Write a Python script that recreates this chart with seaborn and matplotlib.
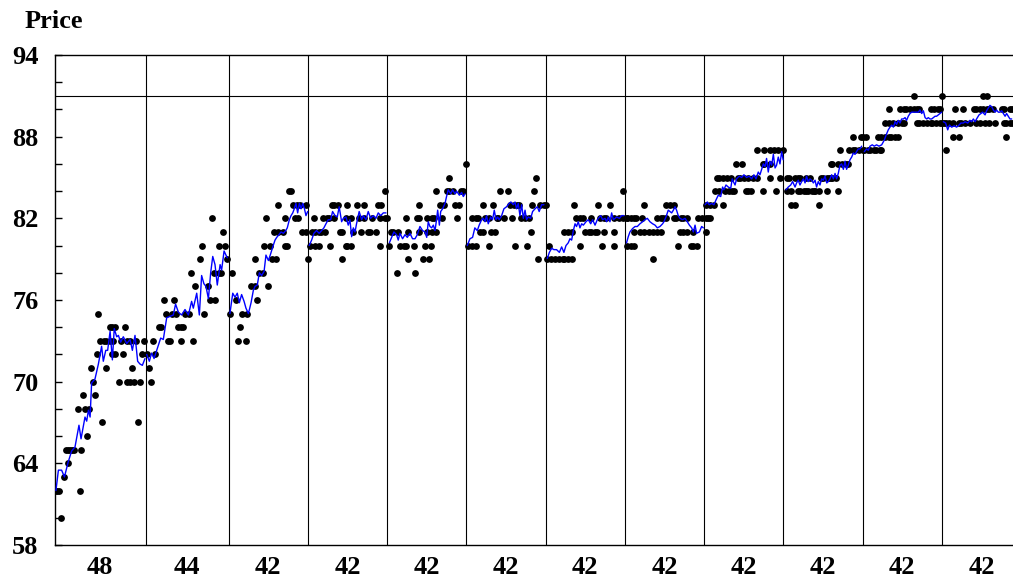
import numpy as np
import pandas as pd
import seaborn as sns
import matplotlib.pyplot as plt
from matplotlib.ticker import MultipleLocator

# ── Data ──────────────────────────────────────────────────────────────────────
segment_sizes = [48, 44, 42, 42, 42, 42, 42, 42, 42, 42, 42, 42]
segment_labels = [str(n) for n in segment_sizes]
price_ticks = [58, 64, 70, 76, 82, 88, 94]
ceiling_price = 91

# individual trades: (price, [periods])
trade_rows = [
    # segment 1
    (60, [3]), (62, [0, 1, 2, 13]), (63, [5]), (64, [7]),
    (65, [6, 7, 8, 9, 10, 14]), (66, [17]), (67, [25, 44]), (68, [12, 16, 18]),
    (69, [15, 21]), (70, [20, 34, 38, 40, 42, 45]), (71, [19, 27, 41]),
    (72, [22, 30, 32, 36, 46]), (73, [24, 26, 27, 29, 31, 35, 38, 40, 43, 47]),
    (74, [29, 30, 32, 37]), (75, [23]),
    # segment 2
    (70, [51]), (71, [50]), (72, [49, 53]), (73, [52, 60, 61, 67, 73]),
    (74, [55, 56, 65, 67, 68]), (75, [59, 62, 64, 69, 71, 79]), (76, [58, 63, 82, 85]),
    (77, [74, 81]), (78, [72, 84, 87, 88]), (79, [77, 91]), (80, [78, 87, 90]),
    (81, [89]), (82, [83]),
    # segment 3
    (73, [97, 101]), (74, [98]), (75, [93, 99, 102]), (76, [96, 107]),
    (77, [104, 106, 113]), (78, [94, 108, 110]), (79, [106, 115, 117]),
    (80, [111, 114, 122, 123]), (81, [116, 118, 121, 131, 133]),
    (82, [112, 122, 127, 129]), (83, [118, 126, 128, 130, 133]), (84, [124, 125]),
    # segment 4
    (79, [134, 152]), (80, [135, 138, 140, 146, 154, 155, 157, 172]),
    (81, [136, 138, 140, 141, 143, 151, 152, 158, 162, 166, 167, 170]),
    (82, [137, 142, 144, 145, 148, 154, 157, 161, 164, 168, 172, 175, 176]),
    (83, [147, 148, 150, 155, 160, 164, 171, 173]), (84, [175]),
    # segment 5
    (78, [181, 191]), (79, [187, 195, 198]), (80, [177, 183, 185, 186, 190, 196, 199]),
    (81, [178, 179, 182, 187, 193, 197, 200, 202]),
    (82, [186, 192, 193, 197, 200, 201, 205, 213]), (83, [193, 204, 206, 212, 214]),
    (84, [202, 208, 209, 211, 215, 216]), (85, [209]), (86, [218]),
    # segment 6
    (79, [256]), (80, [219, 221, 223, 230, 244, 250]), (81, [225, 227, 231, 233, 252]),
    (82, [221, 223, 224, 228, 230, 234, 235, 238, 242, 247, 249, 251]),
    (83, [227, 232, 241, 243, 245, 246, 253, 257, 259, 260]), (84, [236, 240, 254]),
    (85, [255]),
    # segment 7
    (79, [261, 263, 265, 267, 269, 270, 272, 274]), (80, [262, 278, 290, 296]),
    (81, [270, 272, 274, 281, 283, 284, 286, 287, 291, 296]),
    (82, [276, 278, 280, 284, 289, 291, 292, 296, 299, 301, 303]),
    (83, [275, 288, 294]), (84, [301]),
    # segment 8
    (79, [317]), (80, [303, 305, 307, 330, 337, 338, 340]),
    (81, [307, 310, 312, 315, 317, 319, 321, 331, 333, 335, 338, 345]),
    (82, [303, 305, 307, 308, 311, 319, 321, 322, 324, 328, 329, 332, 333, 335, 341, 343, 345]),
    (83, [312, 324, 326, 328, 345]),
    # segment 9
    (82, [346, 347]), (83, [347, 349, 354]),
    (84, [350, 352, 355, 357, 359, 360, 366, 367, 369, 375, 382]),
    (85, [351, 352, 354, 356, 358, 362, 363, 365, 367, 370, 372, 379, 384]),
    (86, [361, 364, 375, 376, 379]), (87, [372, 376, 379, 381, 383, 386]),
    # segment 10
    (83, [390, 392, 405]),
    (84, [388, 390, 394, 395, 397, 398, 399, 401, 402, 403, 405, 409, 415]),
    (85, [388, 389, 392, 394, 395, 398, 400, 406, 407, 409, 410, 411, 412, 414]),
    (86, [411, 412, 415, 417, 419, 420]), (87, [416, 421, 423, 424, 426, 428]),
    (88, [423, 427, 428, 430]),
    # segment 11
    (87, [429, 431, 432, 434, 435, 437, 438]),
    (88, [436, 438, 440, 442, 443, 445, 447]),
    (89, [440, 442, 444, 447, 449, 450, 457, 458, 460, 462, 464, 465, 467, 469, 470]),
    (90, [442, 448, 450, 451, 453, 455, 457, 458, 464, 466, 468, 469]),
    (91, [455, 470]),
    # segment 12
    (87, [472]), (88, [476, 479, 504]),
    (89, [471, 472, 474, 476, 479, 480, 482, 485, 488, 490, 493, 495, 498, 503, 504, 506, 507]),
    (90, [477, 481, 487, 488, 490, 492, 494, 495, 497, 502, 503, 506, 507]),
    (91, [492, 494]),
]

# average price line
avg_period = [
    0.5, 1.8, 3.5, 5.0, 7.0, 8.8, 10.6, 12.7, 13.8, 15.9, 16.8, 17.7, 18.6, 19.4, 21.2,
    23.0, 24.7, 25.6, 26.9, 27.9, 29.2, 30.4, 31.4, 32.7, 33.6, 34.8, 36.2, 38.0, 39.8,
    41.0, 42.4, 43.8, 45.0, 46.3, 47.7,
    48.6, 50.0, 51.2, 52.5, 53.9, 56.0, 57.4, 59.2, 61.0, 62.7, 63.9, 65.4, 67.1, 68.9,
    70.7, 72.4, 73.3, 75.1, 76.5, 77.7, 78.9, 80.0, 81.3, 82.5, 83.6, 84.8, 86.0, 87.5,
    88.3, 89.6, 90.6, 91.3,
    92.7, 94.2, 95.4, 96.6, 97.7, 98.9, 100.2, 101.2, 102.5, 103.9, 105.1, 106.0, 107.2,
    108.3, 109.5, 110.8, 111.8, 113.1, 114.3, 115.4, 116.6, 117.5, 118.7, 119.8, 121.0,
    122.3, 123.1, 124.2, 125.1, 126.0, 126.8, 127.7, 128.6, 129.5, 130.4, 131.3, 132.2,
    133.0, 133.9,
    134.7, 136.0, 137.2, 138.6, 140.0, 141.3, 142.5, 143.6, 144.8, 146.1, 147.1, 148.4,
    149.6, 150.6, 151.9, 152.8, 154.2, 155.4, 156.3, 157.2, 158.1, 159.0, 159.8, 161.2,
    162.5, 163.4, 164.8, 166.0, 167.3, 168.7, 170.1, 171.3, 172.6, 174.0, 175.4,
    177.2, 178.4, 179.6, 181.0, 181.9, 182.8, 184.2, 185.5, 186.7, 188.1, 189.5, 190.8,
    192.0, 193.4, 194.8, 196.1, 197.0, 197.8, 198.7, 199.6, 200.5, 201.4, 202.2, 202.8,
    203.7, 204.4, 205.4, 206.7, 207.5, 208.4, 209.7, 210.7, 212.0, 212.8, 214.3, 215.5,
    216.4, 217.3,
    218.5, 219.9, 221.3, 222.5, 223.8, 224.8, 226.1, 227.0, 227.9, 228.7, 229.6, 230.9,
    231.9, 232.8, 233.7, 234.6, 235.4, 236.7, 237.9, 239.3, 240.7, 241.6, 242.9, 243.8,
    244.6, 245.5, 246.4, 247.3, 248.2, 249.1, 249.9, 250.8, 252.1, 253.1, 254.4, 255.6,
    256.6, 257.9, 259.1,
    260.9, 262.0, 263.2, 264.4, 265.8, 267.3, 268.5, 269.7, 270.8, 272.0, 272.9, 273.8,
    274.7, 275.6, 276.4, 277.3, 278.2, 279.1, 280.0, 281.4, 282.6, 283.9, 284.9, 286.2,
    287.4, 288.5, 289.2, 290.2, 291.5, 292.3, 293.2, 294.1, 295.0, 295.9, 296.8, 297.6,
    299.1, 300.3, 301.5,
    302.9, 303.8, 304.7, 306.1, 307.4, 308.6, 310.0, 311.4, 312.7, 313.9, 315.3, 316.7,
    318.0, 319.2, 320.6, 322.0, 322.7, 323.8, 325.0, 325.9, 326.8, 327.7, 328.6, 329.4,
    330.3, 331.2, 332.6, 333.9, 335.1, 336.2, 337.4, 338.3, 339.2, 340.0, 341.5, 342.7,
    343.6,
    344.5, 345.7, 346.7, 348.0, 349.2, 350.3, 351.5, 352.8, 353.8, 354.5, 355.6, 356.8,
    358.1, 358.9, 359.5, 360.4, 361.2, 362.6, 363.9, 365.1, 366.5, 367.9, 369.2, 370.4,
    371.5, 372.7, 373.6, 374.5, 375.4, 376.3, 377.1, 378.0, 378.9, 379.8, 380.7, 381.6,
    382.4, 383.3, 384.2, 385.1, 385.9,
    387.4, 388.6, 389.9, 390.9, 392.2, 393.0, 393.9, 394.8, 395.7, 396.6, 397.5, 398.3,
    399.2, 400.1, 401.0, 401.9, 402.8, 403.6, 404.5, 405.4, 406.3, 407.2, 408.1, 409.0,
    409.8, 410.7, 411.6, 412.5, 413.4, 414.2, 415.1, 416.0, 416.9, 417.8, 418.7, 419.5,
    420.4, 421.3, 422.2, 423.1, 424.0, 424.8, 425.7, 426.6, 427.5,
    428.9, 430.1, 431.0, 431.9, 433.1, 434.2, 435.4, 436.7, 438.1, 439.5, 440.7, 441.6,
    442.5, 443.4, 444.3, 445.2, 446.0, 446.9, 447.8, 448.7, 449.6, 450.5, 451.3, 452.2,
    453.1, 454.0, 454.9, 455.8, 456.6, 457.5, 458.4, 459.3, 460.2, 461.1, 462.0, 462.8,
    463.7, 464.6, 465.5, 466.4, 467.2, 468.1, 469.0, 469.9,
    470.8, 472.0, 473.1, 474.0, 475.2, 476.6, 477.8, 479.1, 480.1, 481.4, 482.3, 483.7,
    484.9, 485.8, 486.7, 487.6, 488.4, 489.7, 490.7, 491.6, 492.9, 493.7, 494.6, 495.5,
    496.4, 497.3, 498.2, 499.0, 499.9, 500.8, 501.7, 502.6, 503.5, 504.3, 505.2, 506.1,
    507.0,
]
avg_price = [
    62.0, 63.5, 63.5, 63.0, 64.1, 64.9, 65.2, 66.8, 65.8, 67.4, 67.1, 67.9, 67.4, 69.9, 70.2,
    71.3, 72.6, 71.5, 72.3, 72.3, 73.7, 71.6, 73.9, 73.3, 73.4, 72.9, 73.3, 72.8, 73.1,
    72.3, 73.4, 71.5, 71.3, 71.2, 71.7,
    72.0, 71.5, 72.1, 71.7, 72.3, 73.2, 73.1, 74.7, 74.8, 74.9, 75.7, 75.1, 74.9, 75.3,
    74.9, 75.9, 75.4, 76.5, 74.9, 77.8, 77.2, 77.0, 76.1, 78.0, 79.2, 78.6, 77.1, 78.6,
    78.2, 79.6, 79.3, 79.1,
    75.0, 76.5, 76.2, 76.5, 75.8, 76.4, 75.9, 75.4, 75.0, 75.8, 76.7, 77.0, 77.1,
    78.0, 77.8, 78.1, 79.3, 78.9, 79.4, 79.9, 80.4, 80.6, 80.8, 81.0, 80.9,
    81.1, 81.3, 81.9, 82.2, 82.4, 82.7, 83.1, 82.4, 83.1, 82.7, 83.1, 82.7,
    82.2, 82.5,
    80.0, 80.4, 80.9, 81.1, 80.9, 81.1, 81.3, 81.6, 81.9, 81.9, 82.5, 82.2,
    82.1, 82.85, 81.75, 82.0, 82.1, 81.5, 81.9, 80.65, 81.3, 81.0, 81.6, 82.5,
    81.9, 82.2, 81.9, 82.5, 82.0, 82.2, 82.0, 82.4, 82.2, 82.4, 82.4,
    80.2, 80.6, 81.0, 80.8, 80.4, 80.9, 80.5, 80.8, 80.6, 80.9, 80.5, 80.5,
    80.8, 81.4, 81.1, 81.0, 80.6, 81.75, 81.4, 81.3, 81.5, 81.1, 81.9, 82.6,
    81.5, 82.5, 82.7, 83.1, 83.6, 84.1, 83.8, 84.1, 83.8, 84.0, 83.7, 83.9,
    83.6, 83.8,
    80.0, 80.5, 80.6, 81.3, 81.1, 81.5, 81.9, 82.0, 81.75, 82.2, 81.6, 82.1,
    81.9, 82.6, 81.9, 82.1, 81.9, 82.2, 82.7, 82.85, 83.1, 83.2, 83.0, 83.2,
    82.7, 83.1, 82.2, 83.0, 82.0, 82.6, 81.9, 82.1, 82.0, 82.5, 82.7, 82.85,
    82.5, 83.0, 83.0,
    79.05, 79.5, 79.8, 79.7, 79.7, 79.5, 79.9, 79.5, 80.0, 80.2, 80.5, 80.4,
    81.1, 81.6, 81.4, 81.75, 81.3, 81.6, 81.5, 81.75, 81.9, 81.6, 81.9, 81.5,
    81.9, 82.1, 82.2, 81.9, 82.0, 81.75, 82.1, 81.75, 82.4, 81.9, 82.0, 82.1,
    82.0, 82.2, 82.2,
    80.2, 80.65, 81.0, 81.25, 81.4, 81.4, 81.6, 81.75, 81.9, 82.0, 81.75, 81.6,
    81.5, 81.3, 81.4, 81.6, 81.75, 82.1, 82.6, 82.5, 82.4, 82.6, 82.85, 82.6,
    82.2, 82.0, 81.9, 82.0, 81.75, 81.5, 81.3, 81.0, 81.5, 80.9, 81.0, 81.4,
    81.3,
    83.0, 83.2, 83.0, 83.1, 83.0, 83.35, 83.7, 83.6, 84.3, 84.1, 84.45, 84.3,
    84.2, 84.9, 84.7, 84.45, 84.9, 85.1, 85.0, 85.2, 85.0, 85.1, 84.9, 85.2,
    84.9, 85.4, 85.2, 85.6, 86.0, 85.8, 86.4, 85.4, 86.2, 85.9, 86.7, 85.7,
    85.9, 86.5, 86.0, 86.9, 86.3,
    84.1, 84.3, 84.45, 84.7, 84.3, 84.6, 84.8, 84.45, 84.7, 84.9, 84.6, 85.1,
    84.7, 84.9, 84.8, 84.6, 84.8, 84.3, 84.7, 84.45, 84.9, 84.8, 85.1, 84.6,
    84.7, 84.9, 85.2, 84.9, 85.3, 84.9, 85.3, 85.9, 86.0, 85.6, 86.2, 85.6,
    85.9, 86.3, 86.5, 86.8, 86.7, 86.9, 87.1, 87.1, 87.3,
    86.9, 87.1, 87.0, 87.3, 87.4, 87.3, 87.4, 87.3, 87.4, 87.75, 88.2, 88.5,
    88.7, 88.85, 88.7, 89.1, 88.9, 89.2, 89.0, 89.3, 89.3, 89.4, 89.2, 89.5,
    89.7, 89.8, 89.8, 89.8, 89.8, 89.8, 89.96, 89.7, 89.9, 89.4, 89.3, 89.4,
    89.3, 89.3, 89.4, 89.5, 89.5, 89.6, 89.7, 89.8,
    89.1, 89.0, 88.5, 88.85, 88.7, 88.8, 88.7, 88.85, 89.0, 89.0, 89.1, 89.0,
    89.2, 89.1, 89.3, 89.1, 89.3, 89.6, 89.7, 89.8, 89.6, 89.9, 90.1, 90.3,
    90.2, 89.96, 89.8, 89.96, 89.8, 89.8, 89.9, 89.7, 89.5, 89.7, 89.5, 89.3,
    89.3,
]

# ── Frames ────────────────────────────────────────────────────────────────────
bounds = np.concatenate([[0], np.cumsum(segment_sizes)])

trades = pd.DataFrame(
    [(p, price) for price, periods in trade_rows for p in periods],
    columns=["period", "price"],
)
avg = pd.DataFrame({"period": avg_period, "price": avg_price})
avg["segment"] = np.searchsorted(bounds, avg["period"], side="right")

# ── Plot ──────────────────────────────────────────────────────────────────────
sns.set_style("white")
plt.rcParams["font.family"] = ["Liberation Serif", "DejaVu Serif"]
plt.rcParams["font.weight"] = "bold"
plt.rcParams["text.color"] = "black"
plt.rcParams["xtick.color"] = "black"
plt.rcParams["ytick.color"] = "black"

W, H = 1013, 583
fig = plt.figure(figsize=(W / 100, H / 100), dpi=100)
ax = fig.add_axes([55 / W, 38 / H, (W - 55) / W, 490 / H])

sns.scatterplot(data=trades, x="period", y="price", color="black", s=24,
                linewidth=0, ax=ax, zorder=2, legend=False)
sns.lineplot(data=avg, x="period", y="price", units="segment", estimator=None,
             color="#0000ff", lw=1.0, ax=ax, zorder=3, legend=False)

for b in bounds[1:-1]:
    ax.axvline(b, color="black", lw=0.8, zorder=1)
ax.axhline(ceiling_price, color="black", lw=0.8, zorder=1)

ax.set_xlim(0, 507.7)
ax.set_ylim(58, 94)
ax.set_yticks(price_ticks)
ax.yaxis.set_minor_locator(MultipleLocator(2))
centers = bounds[:-1] + np.array(segment_sizes) / 2
ax.set_xticks(centers, segment_labels)

ax.tick_params(axis="y", which="both", direction="in", length=5, width=1,
               labelsize=19, pad=12, left=True, colors="black")
ax.tick_params(axis="x", length=0, labelsize=19, pad=8, colors="black")
for lab in ax.get_xticklabels() + ax.get_yticklabels():
    lab.set_fontweight("bold")
    lab.set_color("black")

ax.set_xlabel("")
ax.set_ylabel("")
for side in ["left", "bottom", "top"]:
    ax.spines[side].set_color("black")
    ax.spines[side].set_linewidth(1.0)
ax.spines["right"].set_visible(False)

fig.text(25 / W, 1 - 28 / H, "Price", ha="left", va="baseline",
         fontsize=19, fontweight="bold", color="black")

fig.savefig("out.png", dpi=100)
